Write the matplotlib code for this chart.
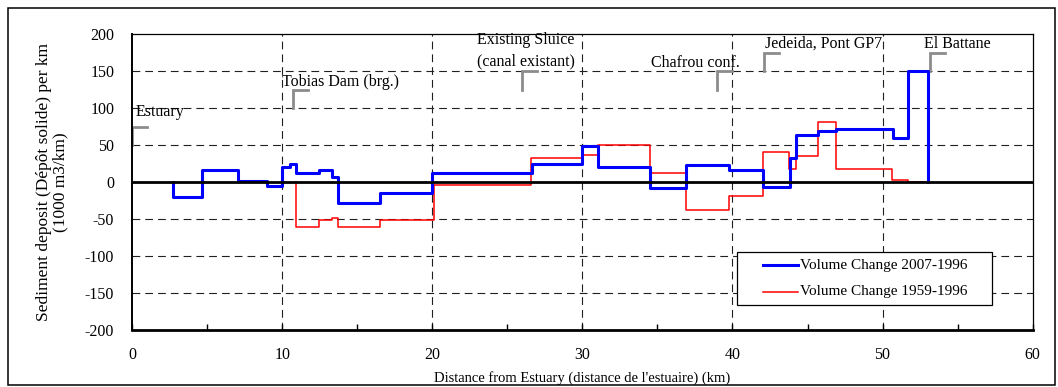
import matplotlib
matplotlib.use("Agg")
import matplotlib.pyplot as plt
from matplotlib.patches import Rectangle
from matplotlib.lines import Line2D

plt.rcParams["font.family"] = ["Liberation Serif", "DejaVu Serif"]
plt.rcParams["axes.unicode_minus"] = False

# step edges (km) and values (1000 m3/km)
blue_edges = [2.71, 4.67, 7.07, 9.0, 10.0, 10.51, 10.89, 12.45, 13.29, 13.73, 16.51, 20.0,
              26.63, 30.0, 31.03, 34.51, 36.89, 39.8, 42.0, 43.8, 44.23, 45.67, 46.91,
              50.67, 51.67, 53.03]
blue_vals = [-19.5, 16, 1.5, -5.5, 21, 25, 13, 16, 7, -27.5, -14, 12.5, 25, 49.5, 21, -8,
             24, 16, -7, 32.5, 63.5, 69.5, 71.5, 59.5, 150.5]

red_edges = [10.89, 12.45, 13.29, 13.73, 16.51, 20.13, 26.6, 30.0, 31.03, 34.47, 36.89,
             39.8, 42.0, 43.78, 44.23, 45.67, 46.89, 50.63, 51.67, 53.03]
red_vals = [-61, -50.5, -48, -61, -50.5, -4, 32.5, 37.5, 51, 12.5, -38, -18, 40.5, 17.5,
            35.5, 81.5, 18, 2.5, 0.8]

# site markers: name, bracket x, bracket base y
site_names = ["Estuary", "Tobias Dam (brg.)", "Existing Sluice\n(canal existant)",
              "Chafrou conf.", "Jedeida, Pont GP7", "El Battane"]
site_x = [0.0, 10.73, 26.0, 39.0, 42.07, 53.18]
site_y = [50, 100, 125, 125, 150, 150]


def step_xy(edges, vals):
    xs = [edges[0]]
    ys = [0]
    for i, v in enumerate(vals):
        xs += [edges[i], edges[i + 1]]
        ys += [v, v]
    xs.append(edges[-1])
    ys.append(0)
    return xs, ys


fig = plt.figure(figsize=(10.58, 3.87), dpi=100)
ax = fig.add_axes([0.125, 0.147, 0.851, 0.764])

dash = (0, (7, 4.5))
for gx in [10, 20, 30, 40, 50]:
    ax.axvline(gx, color="#202020", lw=0.8, ls=dash, zorder=1)
for gy in [-150, -100, -50, 50, 100, 150]:
    ax.axhline(gy, color="#202020", lw=0.8, ls=dash, zorder=1)

rx, ry = step_xy(red_edges, red_vals)
bx, by = step_xy(blue_edges, blue_vals)
ax.plot(rx, ry, color="#ff0000", lw=1.1, zorder=3)
ax.plot(bx, by, color="#0000ff", lw=2.2, zorder=4)
ax.axhline(0, color="black", lw=2.0, zorder=5)

# site brackets and labels
for name, sx, sy in zip(site_names, site_x, site_y):
    ax.plot([sx, sx, sx + 1.0], [sy, sy + 25, sy + 25], color="#8c8c8c", lw=2.0,
            solid_joinstyle="miter", zorder=2, clip_on=False)
ax.text(0.25, 90, site_names[0], fontsize=11.5, ha="left", va="baseline")
ax.text(10.0, 130, site_names[1], fontsize=11.5, ha="left", va="baseline")
ax.text(26.25, 187, "Existing Sluice", fontsize=11.5, ha="center", va="baseline")
ax.text(26.25, 158, "(canal existant)", fontsize=11.5, ha="center", va="baseline")
ax.text(37.5, 156, site_names[3], fontsize=11.5, ha="center", va="baseline")
ax.text(46.07, 182, site_names[4], fontsize=11.5, ha="center", va="baseline")
ax.text(55.0, 182, site_names[5], fontsize=11.5, ha="center", va="baseline")

ax.set_xlim(0, 60)
ax.set_ylim(-200, 200)
ax.set_xticks(range(0, 61, 10))
ax.set_xticks(range(5, 60, 10), minor=True)
ax.set_yticks(range(-200, 201, 50))
ax.tick_params(axis="x", which="both", direction="in", length=4, width=1, labelsize=11.5, pad=12)
ax.tick_params(axis="y", length=0, labelsize=11.5, pad=13)

for side in ["top", "right"]:
    ax.spines[side].set_linewidth(0.9)
ax.spines["left"].set_linewidth(1.4)
ax.spines["bottom"].set_linewidth(2.0)

ax.set_xlabel("Distance from Estuary (distance de l'estuaire) (km)", fontsize=10.5)
ax.xaxis.set_label_coords(0.5, -0.138)
ax.set_ylabel("Sediment deposit (Dépôt solide) per km\n(1000 m3/km)", fontsize=12.5,
              linespacing=1.0)
ax.yaxis.set_label_coords(-0.071, 0.5)

# legend box
ax.add_patch(Rectangle((0.672, 0.085), 0.283, 0.179, transform=ax.transAxes,
                       facecolor="white", edgecolor="black", lw=0.9, zorder=6))
leg_labels = ["Volume Change 2007-1996", "Volume Change 1959-1996"]
leg_colors = ["#0000ff", "#ff0000"]
leg_lw = [2.2, 1.1]
for i, (lab, col, lw) in enumerate(zip(leg_labels, leg_colors, leg_lw)):
    yy = 0.220 - i * 0.090
    ax.add_line(Line2D([0.701, 0.739], [yy, yy], color=col, lw=lw, transform=ax.transAxes,
                       zorder=7))
    ax.text(0.742, yy, lab, transform=ax.transAxes, fontsize=11, ha="left",
            va="center", zorder=7)

# outer frame around the whole picture
fig.add_artist(Rectangle((7.5 / 1058, 2 / 387), 1047.5 / 1058, 377 / 387,
                         transform=fig.transFigure, fill=False, edgecolor="black", lw=1.1))

fig.savefig("out.png", dpi=100)
